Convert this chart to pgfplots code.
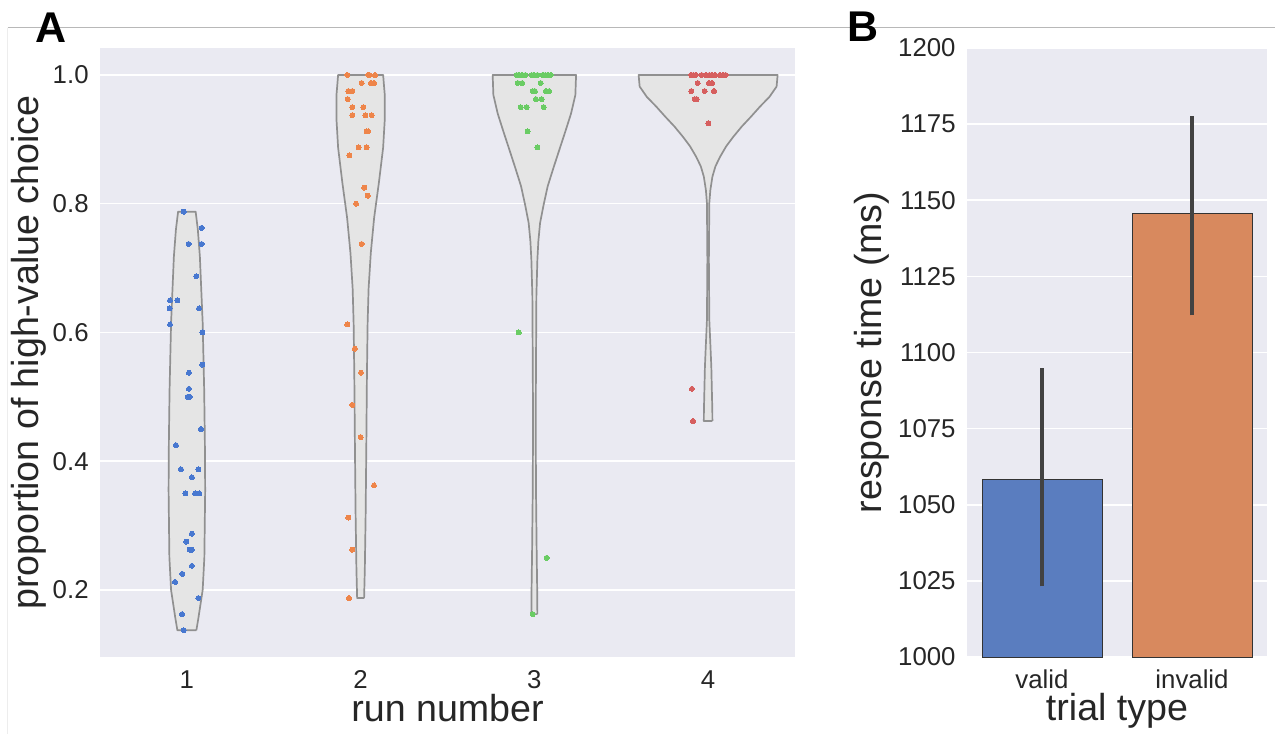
\documentclass[border=0pt]{standalone}
\usepackage{fontspec}
\setmainfont{Liberation Sans}
\usepackage{pgfplots}
\pgfplotsset{compat=1.18}

\definecolor{sbbg}{HTML}{EAEAF2}
\definecolor{sbtext}{HTML}{262626}
\definecolor{vfill}{HTML}{E5E5E5}
\definecolor{vedge}{HTML}{909090}
\definecolor{mblue}{HTML}{4878D0}
\definecolor{morange}{HTML}{EE854A}
\definecolor{mgreen}{HTML}{6ACC64}
\definecolor{mred}{HTML}{D65F5F}
\definecolor{barblue}{HTML}{5A7DBF}
\definecolor{barorange}{HTML}{D8895E}
\definecolor{errgray}{HTML}{424242}

\pgfplotsset{
  sbstyle/.style={
    scale only axis,
    axis background/.style={fill=sbbg},
    axis line style={draw=none},
    major tick length=0pt,
    tick style={draw=none},
    ymajorgrids,
    grid style={white, line width=0.75pt},
    /pgf/number format/assume math mode=true,
    tick label style={font=\fontsize{12.9}{15}\selectfont, text=sbtext},
    label style={font=\fontsize{18.8}{22}\selectfont, text=sbtext},
    yticklabel style={anchor=east, inner sep=0pt, xshift=-5.5pt},
    xticklabel style={anchor=base, inner sep=0pt, yshift=-15.5pt},
  },
  violin/.style={fill=vfill, draw=vedge, line width=0.85pt, line join=round, mark=none},
  dots/.style={only marks, color=#1, mark=*, mark size=1.25pt, mark options={solid, draw=#1, fill=#1, line width=0pt}},
}

\begin{document}
\begin{tikzpicture}
\path[use as bounding box] (0pt,0pt) rectangle (637.5pt,367pt);
\draw[color=black!28, line width=0.75pt] (3.75pt,353.15pt) -- (637.5pt,353.15pt);
\draw[color=black!7, line width=0.5pt] (3.75pt,353.15pt) -- (3.75pt,0pt);

% Panel A: choice proportions per run
\begin{axis}[sbstyle,
  at={(50pt,38.5pt)}, anchor=south west,
  width=347.5pt, height=304.5pt,
  xmin=-0.5, xmax=3.5, ymin=0.0959, ymax=1.0419,
  xtick={0,1,2,3}, xticklabels={1,2,3,4},
  ytick={0.2,0.4,0.6,0.8,1.0},
  yticklabel style={/pgf/number format/.cd, fixed, fixed zerofill, precision=1},
  xlabel={run number},
  ylabel={proportion of high-value choice},
  xlabel style={at={(axis description cs:0.5,-0.1067)}, anchor=base},
  ylabel style={at={(axis description cs:-0.0767,0.5)}, anchor=south, inner sep=0pt},
]
% violin outlines
\addplot[violin] coordinates {
  (0.0547,0.1375) (0.0673,0.158) (0.0909,0.2) (0.1007,0.251) (0.1053,0.355)
  (0.1036,0.43) (0.0996,0.511) (0.0909,0.615) (0.0748,0.718) (0.063,0.76) (0.0506,0.7875)
  (-0.0506,0.7875) (-0.063,0.76) (-0.0748,0.718) (-0.0909,0.615) (-0.0996,0.511)
  (-0.1036,0.43) (-0.1053,0.355) (-0.1007,0.251) (-0.0909,0.2) (-0.0673,0.158) (-0.0547,0.1375)
  (0.0547,0.1375)};
\addplot[violin] coordinates {
  (1.0201,0.1875) (1.0242,0.233) (1.0288,0.315) (1.0328,0.424) (1.0363,0.533)
  (1.0403,0.615) (1.046,0.669) (1.0587,0.724) (1.0777,0.778) (1.1053,0.833)
  (1.1295,0.887) (1.139,0.931) (1.139,0.969) (1.1295,1.0)
  (0.8705,1.0) (0.861,0.969) (0.861,0.931) (0.8705,0.887) (0.8947,0.833)
  (0.9223,0.778) (0.9413,0.724) (0.954,0.669) (0.9597,0.615) (0.9637,0.533)
  (0.9672,0.424) (0.9712,0.315) (0.9758,0.233) (0.9799,0.1875)
  (1.0201,0.1875)};
\addplot[violin] coordinates {
  (2.0173,0.1625) (2.0161,0.202) (2.0132,0.259) (2.0098,0.344) (2.0075,0.458)
  (2.0098,0.571) (2.0115,0.656) (2.0173,0.713) (2.023,0.742) (2.0328,0.770)
  (2.053,0.798) (2.0765,0.827) (2.109,0.855) (2.144,0.884) (2.178,0.912)
  (2.211,0.940) (2.236,0.969) (2.240,1.0)
  (1.760,1.0) (1.764,0.969) (1.789,0.940) (1.822,0.912) (1.856,0.884)
  (1.891,0.855) (1.9235,0.827) (1.947,0.798) (1.9672,0.770) (1.977,0.742)
  (1.9827,0.713) (1.9885,0.656) (1.9902,0.571) (1.9925,0.458) (1.9902,0.344)
  (1.9868,0.259) (1.9839,0.202) (1.9827,0.1625)
  (2.0173,0.1625)};
\addplot[violin] coordinates {
  (3.0247,0.4625) (3.0242,0.479) (3.0219,0.505) (3.0184,0.547) (3.0127,0.583)
  (3.0069,0.619) (3.0043,0.713) (3.0069,0.801) (3.0127,0.821) (3.0247,0.842)
  (3.042,0.858) (3.069,0.873) (3.1036,0.889) (3.145,0.904) (3.194,0.920)
  (3.246,0.935) (3.299,0.951) (3.353,0.966) (3.394,0.982) (3.400,1.0)
  (2.600,1.0) (2.606,0.982) (2.647,0.966) (2.701,0.951) (2.754,0.935)
  (2.806,0.920) (2.855,0.904) (2.8964,0.889) (2.931,0.873) (2.958,0.858)
  (2.9753,0.842) (2.9873,0.821) (2.9931,0.801) (2.9957,0.713) (2.9931,0.619)
  (2.9873,0.583) (2.9816,0.547) (2.9781,0.505) (2.9758,0.479) (2.9753,0.4625)
  (3.0247,0.4625)};
% individual participants
\addplot[dots=mblue] coordinates {
  (-0.018,0.7875) (0.085,0.7625) (0.010,0.7375) (0.085,0.7375) (0.054,0.6875)
  (-0.097,0.65) (-0.055,0.65) (-0.099,0.6375) (0.070,0.6375) (-0.097,0.6125)
  (0.089,0.6) (0.089,0.55) (0.012,0.5375) (0.012,0.5125) (0.005,0.5) (0.017,0.5)
  (0.081,0.45) (-0.063,0.425) (-0.034,0.3875) (0.066,0.3875) (0.029,0.375)
  (-0.009,0.35) (0.047,0.35) (0.071,0.35) (0.029,0.2875) (-0.003,0.275)
  (0.016,0.2625) (0.028,0.2625) (0.029,0.2375) (-0.026,0.225) (-0.068,0.2125)
  (0.066,0.1875) (-0.028,0.1625) (-0.018,0.1375)};
\addplot[dots=morange] coordinates {
  (0.923,1.0) (1.044,1.0) (1.050,1.0) (1.083,1.0)
  (1.006,0.9875) (1.060,0.9875) (1.077,0.9875)
  (0.929,0.975) (0.952,0.975) (0.926,0.9625)
  (0.952,0.95) (1.016,0.95)
  (0.952,0.9375) (1.027,0.9375) (1.064,0.9375)
  (1.035,0.9125) (1.043,0.9125) (0.989,0.8875) (1.035,0.8875) (0.935,0.875)
  (1.021,0.825) (1.041,0.8125) (0.974,0.8) (1.006,0.7375) (0.923,0.6125)
  (0.967,0.575) (1.002,0.5375) (0.952,0.4875) (1.000,0.4375) (1.077,0.3625)
  (0.929,0.3125) (0.952,0.2625) (0.933,0.1875)};
\addplot[dots=mgreen] coordinates {
  (1.898,1.0) (1.913,1.0) (1.930,1.0) (1.948,1.0) (1.984,1.0) (1.999,1.0)
  (2.017,1.0) (2.048,1.0) (2.063,1.0) (2.078,1.0) (2.094,1.0)
  (1.904,0.9875) (1.930,0.9875) (2.036,0.9875)
  (1.990,0.975) (2.003,0.975) (2.067,0.975) (2.085,0.975)
  (2.009,0.9625) (2.042,0.9625)
  (1.921,0.95) (1.956,0.95) (2.054,0.95)
  (1.961,0.9125) (2.017,0.8875) (1.910,0.6) (2.071,0.25) (1.990,0.1625)};
\addplot[dots=mred] coordinates {
  (2.902,1.0) (2.915,1.0) (2.929,1.0) (2.963,1.0) (2.988,1.0) (3.007,1.0)
  (3.022,1.0) (3.040,1.0) (3.068,1.0) (3.087,1.0) (3.101,1.0)
  (2.940,0.9875) (3.005,0.9875) (3.022,0.9875)
  (2.903,0.975) (2.980,0.975) (3.034,0.975)
  (2.923,0.9625) (2.934,0.9625)
  (3.001,0.925) (2.907,0.5125) (2.913,0.4625)};
\end{axis}

% Panel B: response times by trial type
\begin{axis}[sbstyle,
  at={(483.5pt,38.5pt)}, anchor=south west,
  width=150pt, height=304.5pt,
  xmin=-0.5, xmax=1.5, ymin=1000, ymax=1200,
  xtick={0,1}, xticklabels={valid,invalid},
  ytick={1000,1025,1050,1075,1100,1125,1150,1175,1200},
  yticklabel style={/pgf/number format/set thousands separator={}},
  xlabel={trial type},
  ylabel={response time (ms)},
  xlabel style={at={(axis description cs:0.5,-0.105)}, anchor=base},
  ylabel style={at={(axis description cs:-0.2567,0.5)}, anchor=south, inner sep=0pt},
]
\addplot[ybar, bar width=0.8, bar shift=0pt, fill=barblue, draw=black!80, line width=0.5pt]
  coordinates {(0,1058.2)};
\addplot[ybar, bar width=0.8, bar shift=0pt, fill=barorange, draw=black!80, line width=0.5pt]
  coordinates {(1,1145.7)};
% 95% confidence intervals
\addplot[errgray, line width=1.6pt, mark=none] coordinates {(0,1023.2) (0,1095.0)};
\addplot[errgray, line width=1.6pt, mark=none] coordinates {(1,1112.2) (1,1177.6)};
\end{axis}

\node[anchor=base west, inner sep=0pt, font=\bfseries\fontsize{21.5}{24}\selectfont] at (17.5pt,345.5pt) {A};
\node[anchor=base west, inner sep=0pt, font=\bfseries\fontsize{21.5}{24}\selectfont] at (423.5pt,346pt) {B};
\end{tikzpicture}
\end{document}
